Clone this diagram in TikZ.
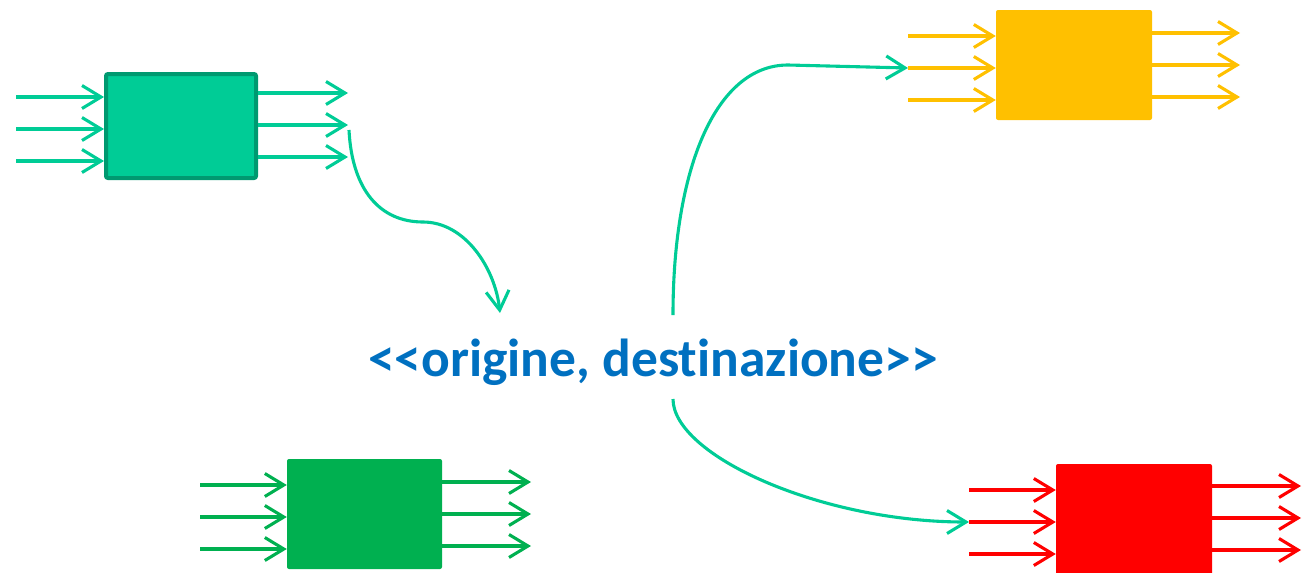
\documentclass[tikz,border=0pt]{standalone}
\usepackage{fontspec}
\newfontfamily\labelfont{Carlito}[Ligatures={TeXOff,NoCommon}]
\usetikzlibrary{arrows.meta}
\definecolor{mint}{RGB}{0,204,150}
\definecolor{mintdark}{RGB}{0,153,112}
\definecolor{amber}{RGB}{255,192,0}
\definecolor{leaf}{RGB}{0,176,80}
\definecolor{scarlet}{RGB}{255,0,0}
\definecolor{textblue}{RGB}{0,112,192}
\tikzset{
  barb/.style={-{Straight Barb[length=19pt,width=23pt,line width=3.1pt]}, line width=3.1pt},
  flowline/.style={barb, draw=mint}
}
\begin{document}
\begin{tikzpicture}[x=1pt,y=-1pt]
\useasboundingbox (0,0) rectangle (1307,573);

% blocks
\node[fill=mint, draw=mintdark, line width=4pt, rounded corners=2pt, minimum width=150pt, minimum height=104pt, inner sep=0pt] (b1) at (181,126) {};
\node[fill=amber, rounded corners=2pt, minimum width=156pt, minimum height=110pt, inner sep=0pt] (b2) at (1074,65) {};
\node[fill=leaf, rounded corners=2pt, minimum width=155pt, minimum height=110pt, inner sep=0pt] (b3) at (364.5,514) {};
\node[fill=scarlet, rounded corners=2pt, minimum width=156pt, minimum height=120pt, inner sep=0pt] (b4) at (1134,524) {};

% block inputs and outputs
\foreach \y [count=\i] in {97,129,161} {
  \coordinate (i1s\i) at (16,\y);
  \draw[barb, draw=mint] (i1s\i) -- (b1.west |- i1s\i);
}
\foreach \y [count=\i] in {93,125,157} {
  \coordinate (o1e\i) at (348,\y);
  \draw[barb, draw=mint] (b1.east |- o1e\i) -- (o1e\i);
}
\foreach \y [count=\i] in {36,68,100} {
  \coordinate (i2s\i) at (908,\y);
  \draw[barb, draw=amber] (i2s\i) -- (b2.west |- i2s\i);
}
\foreach \y [count=\i] in {33,65,97} {
  \coordinate (o2e\i) at (1240,\y);
  \draw[barb, draw=amber] (b2.east |- o2e\i) -- (o2e\i);
}
\foreach \y [count=\i] in {485,517,549} {
  \coordinate (i3s\i) at (200,\y);
  \draw[barb, draw=leaf] (i3s\i) -- (b3.west |- i3s\i);
}
\foreach \y [count=\i] in {482,514,546} {
  \coordinate (o3e\i) at (531,\y);
  \draw[barb, draw=leaf] (b3.east |- o3e\i) -- (o3e\i);
}
\foreach \y [count=\i] in {490,522,554} {
  \coordinate (i4s\i) at (969,\y);
  \draw[barb, draw=scarlet] (i4s\i) -- (b4.west |- i4s\i);
}
\foreach \y [count=\i] in {486,518,550} {
  \coordinate (o4e\i) at (1301,\y);
  \draw[barb, draw=scarlet] (b4.east |- o4e\i) -- (o4e\i);
}

% central label
\node[anchor=base, text=textblue, font=\labelfont\fontsize{53.5}{58}\selectfont\bfseries, inner sep=0pt] (pair) at (653,376) {<<origine, destinazione>>};

% routing curves
\coordinate (c1s) at (349,130);
\coordinate (c1m) at (423,222);
\coordinate (c1e) at (500,313);
\draw[flowline] (c1s) .. controls (352,190) and (380,222) .. (c1m) .. controls (465,222) and (495,268) .. (c1e);

\coordinate (c2s) at (673,315);
\coordinate (c2m) at (788,65);
\draw[flowline] (c2s) .. controls (673,170) and (715,65) .. (c2m) -- (i2s2);

\coordinate (c3s) at (673,399);
\draw[flowline] (c3s) .. controls (673,455) and (820,522) .. (i4s2);
\end{tikzpicture}
\end{document}
